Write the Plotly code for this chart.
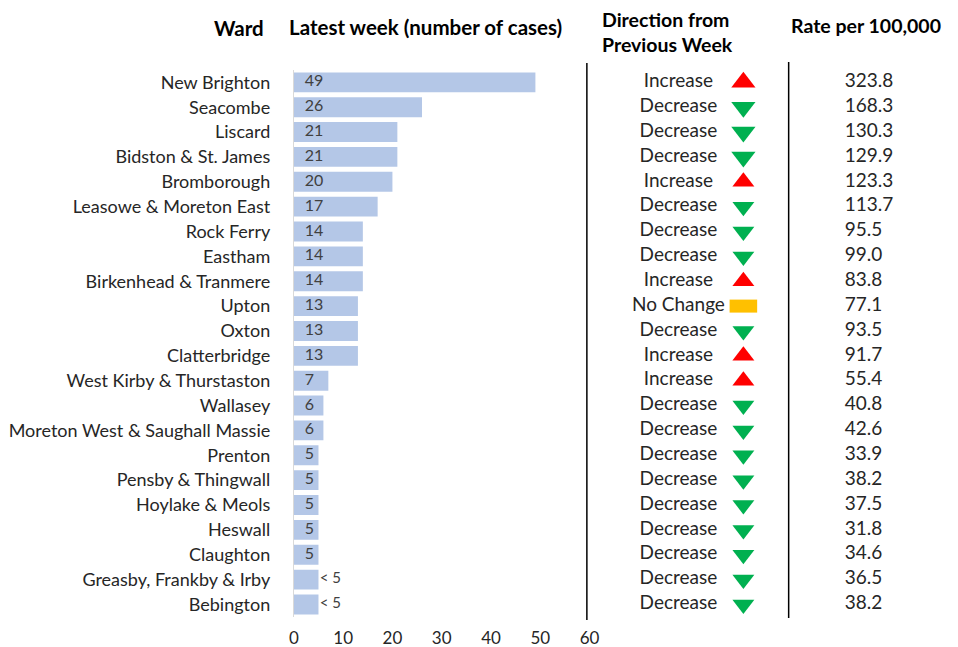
import plotly.graph_objects as go

wards = ["New Brighton", "Seacombe", "Liscard", "Bidston & St. James", "Bromborough",
         "Leasowe & Moreton East", "Rock Ferry", "Eastham", "Birkenhead & Tranmere", "Upton",
         "Oxton", "Clatterbridge", "West Kirby & Thurstaston", "Wallasey",
         "Moreton West & Saughall Massie", "Prenton", "Pensby & Thingwall", "Hoylake & Meols",
         "Heswall", "Claughton", "Greasby, Frankby & Irby", "Bebington"]
cases = [49, 26, 21, 21, 20, 17, 14, 14, 14, 13, 13, 13, 7, 6, 6, 5, 5, 5, 5, 5, 5, 5]
case_labels = ["49", "26", "21", "21", "20", "17", "14", "14", "14", "13", "13", "13", "7",
               "6", "6", "5", "5", "5", "5", "5", "< 5", "< 5"]
direction = ["Increase", "Decrease", "Decrease", "Decrease", "Increase", "Decrease", "Decrease",
             "Decrease", "Increase", "No Change", "Decrease", "Increase", "Increase", "Decrease",
             "Decrease", "Decrease", "Decrease", "Decrease", "Decrease", "Decrease", "Decrease",
             "Decrease"]
rates = [323.8, 168.3, 130.3, 129.9, 123.3, 113.7, 95.5, 99.0, 83.8, 77.1, 93.5, 91.7, 55.4,
         40.8, 42.6, 33.9, 38.2, 37.5, 31.8, 34.6, 36.5, 38.2]
x_ticks = [0, 10, 20, 30, 40, 50, 60]

FONT = "Lato"
OFF = 8            # page body margin
W, H = 958, 647    # figure size
TXT = "#262626"


def px(x):
    return (x - OFF) / W


def py(y):
    return 1 - (y - OFF) / H


sym_map = {"Increase": "triangle-up", "Decrease": "triangle-down"}
col_map = {"Increase": "#FF0000", "Decrease": "#00B050", "No Change": "#FFC000"}

fig = go.Figure()

fig.add_trace(go.Bar(
    y=wards, x=cases, orientation="h",
    marker=dict(color="#B4C7E7", line=dict(width=0)),
    width=0.8, hoverinfo="skip", xaxis="x", yaxis="y"))

inside = [not l.startswith("<") for l in case_labels]
lab_x = [2.2 if ins else v + 0.25 for ins, v in zip(inside, cases)]
fig.add_trace(go.Scatter(
    y=wards, x=lab_x, mode="text", text=case_labels, textposition="middle right",
    textfont=dict(family=FONT, size=[16 if ins else 15 for ins in inside], color="#404040"),
    hoverinfo="skip", xaxis="x", yaxis="y", cliponaxis=False))

# Direction text
fig.add_trace(go.Scatter(
    y=wards, x=[684] * len(wards), mode="text", text=direction,
    textposition="middle center",
    textfont=dict(family=FONT, size=19, color=TXT),
    hoverinfo="skip", xaxis="x2", yaxis="y", cliponaxis=False))

# Direction markers (triangles)
tri = [i for i, d in enumerate(direction) if d in sym_map]
fig.add_trace(go.Scatter(
    y=[wards[i] for i in tri], x=[750] * len(tri), mode="markers",
    marker=dict(symbol=[sym_map[direction[i]] for i in tri],
                color=[col_map[direction[i]] for i in tri],
                size=[21 if i < 4 else 19 for i in tri], opacity=1,
                line=dict(width=0)),
    hoverinfo="skip", xaxis="x2", yaxis="y", cliponaxis=False))

# No change rectangle marker
for i, d in enumerate(direction):
    if d == "No Change":
        fig.add_trace(go.Scatter(
            y=[wards[i], wards[i]], x=[736, 764], mode="lines",
            line=dict(color=col_map[d], width=13),
            hoverinfo="skip", xaxis="x2", yaxis="y", cliponaxis=False))

# Rates
fig.add_trace(go.Scatter(
    y=wards, x=[853] * len(wards), mode="text", text=[f"{r:.1f}" for r in rates],
    textposition="middle right",
    textfont=dict(family=FONT, size=19, color=TXT),
    hoverinfo="skip", xaxis="x2", yaxis="y", cliponaxis=False))

y_top, y_bot = 69.9, 616.9
n = len(wards)
fig.update_layout(
    width=W, height=H, margin=dict(l=0, r=0, t=0, b=0),
    paper_bgcolor="white", plot_bgcolor="rgba(0,0,0,0)",
    showlegend=False, font=dict(family=FONT, color=TXT),
    xaxis=dict(domain=[px(293.3), px(593.8)], range=[0, 60], tickvals=x_ticks,
               showgrid=False, zeroline=False, showline=False, ticks="",
               tickfont=dict(family=FONT, size=17, color=TXT), ticklabelstandoff=9),
    xaxis2=dict(domain=[0, 1], range=[OFF, OFF + W], anchor="y", visible=False),
    yaxis=dict(domain=[py(y_bot), py(y_top)],
               categoryorder="array", categoryarray=wards,
               range=[n - 0.5, -0.5], autorange=False,
               showgrid=False, zeroline=False, showline=True, linecolor="#D9D9D9",
               linewidth=1, ticks="", tickfont=dict(family=FONT, size=18, color=TXT),
               ticklabelstandoff=19),
)

# Column separator lines
for xp, y0, y1 in [(591, 63, 620), (796, 62, 618)]:
    fig.add_shape(type="line", xref="paper", yref="paper",
                  x0=px(xp), x1=px(xp), y0=py(y1), y1=py(y0),
                  line=dict(color="black", width=1.5))

headers = [("<b>Ward</b>", 238, 28, "center", 20.5),
           ("<b>Latest week (number of cases)</b>", 427, 27, "center", 20.5),
           ("<b>Direction from<br>Previous Week</b>", 604, 32, "left", 19.5),
           ("<b>Rate per 100,000</b>", 953, 25, "right", 19.5)]
for t, xp, yp, anc, fs in headers:
    fig.add_annotation(text=t, xref="paper", yref="paper", x=px(xp), y=py(yp),
                       xanchor=anc, yanchor="middle", showarrow=False, align="left",
                       font=dict(family=FONT, size=fs, color="black"))

fig.write_html("out.html")
